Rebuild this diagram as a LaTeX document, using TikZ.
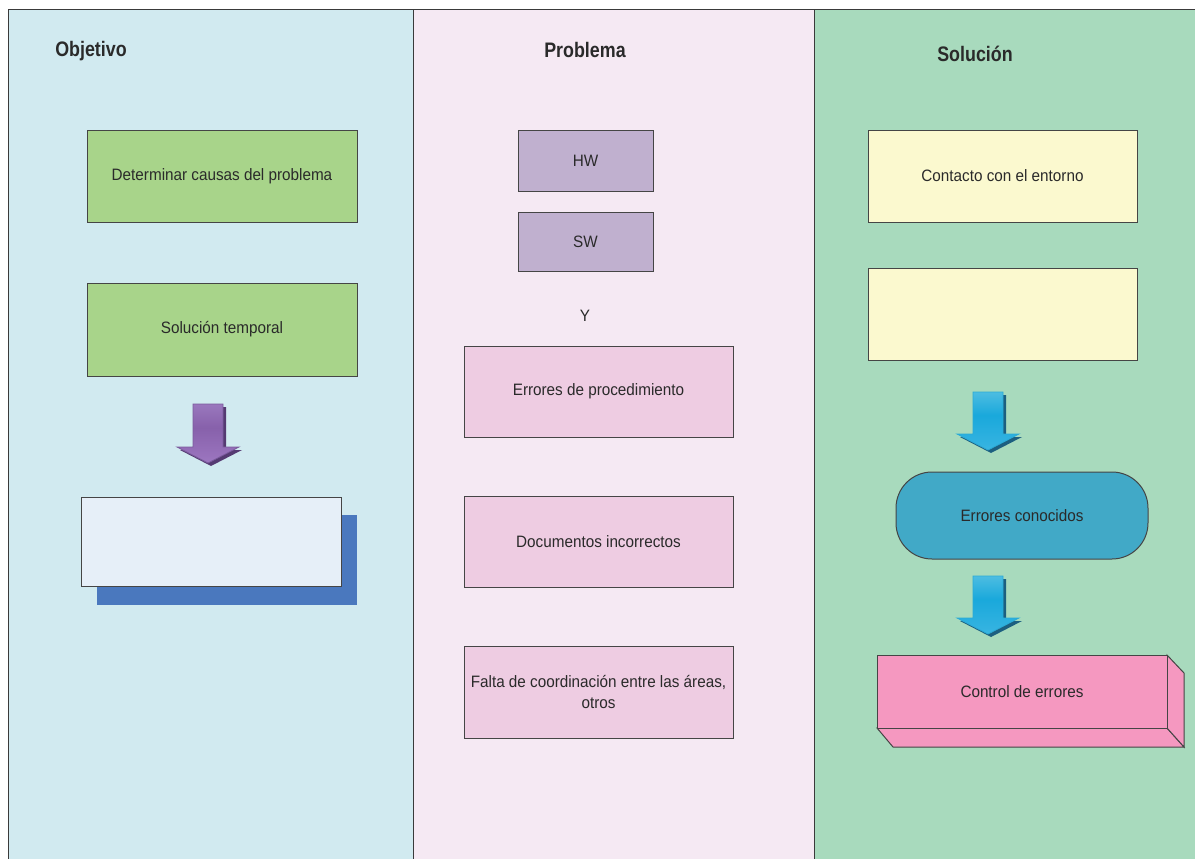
\documentclass[tikz,border=0pt]{standalone}
\usepackage{fontspec}
\setmainfont{Liberation Sans}
\newfontfamily\bodyfont[FakeStretch=0.925]{Liberation Sans}
\newfontfamily\headfont[FakeStretch=0.85]{Liberation Sans}

\definecolor{colA}{HTML}{D1EAF0}
\definecolor{colB}{HTML}{F5E9F3}
\definecolor{colC}{HTML}{A8DABD}
\definecolor{frame}{HTML}{3A3A3A}
\definecolor{boxline}{HTML}{454545}
\definecolor{txt}{HTML}{2A2A2A}
\definecolor{greenbox}{HTML}{A8D48A}
\definecolor{paleblue}{HTML}{E6EFF8}
\definecolor{shadowblue}{HTML}{4A78BE}
\definecolor{lilac}{HTML}{C0B0CF}
\definecolor{pinkbox}{HTML}{EECCE2}
\definecolor{yellowbox}{HTML}{FBF9CF}
\definecolor{tealbox}{HTML}{41A9C7}
\definecolor{rosebox}{HTML}{F598C0}
% block arrow colours
\definecolor{purShadow}{HTML}{553A72}
\definecolor{purEdge}{HTML}{7A5A9C}
\definecolor{cyShadow}{HTML}{1C5F80}
\definecolor{cyEdge}{HTML}{2AAAD6}

\pgfdeclareverticalshading{purgrad}{100bp}{%
  rgb(0bp)=(0.70,0.58,0.82); rgb(30bp)=(0.60,0.45,0.74); rgb(55bp)=(0.53,0.38,0.67);
  rgb(80bp)=(0.62,0.49,0.76); rgb(100bp)=(0.72,0.62,0.84)}
\pgfdeclareverticalshading{cygrad}{100bp}{%
  rgb(0bp)=(0.45,0.80,0.90); rgb(30bp)=(0.20,0.70,0.88); rgb(55bp)=(0.10,0.66,0.86);
  rgb(80bp)=(0.35,0.76,0.89); rgb(100bp)=(0.52,0.82,0.90)}

\tikzset{
  box/.style={draw=boxline, line width=1pt, inner sep=0pt, align=center,
    text=txt, font=\bodyfont\fontsize{16.5}{21}\selectfont},
  header/.style={inner sep=0pt, text=txt, font=\headfont\bfseries\fontsize{21}{24}\selectfont},
  % block arrow pointing down, origin at the top centre of its shaft
  purplearrow/.pic={
    \fill[purShadow] (-12,3) -- (18,3) -- (18,46) -- (34,46) -- (3,62) -- (-28,46) -- (-12,46) -- cycle;
    \shade[shading=purgrad]
      (-15,0) -- (15,0) -- (15,43) -- (31,43) -- (0,59) -- (-31,43) -- (-15,43) -- cycle;
    \draw[purEdge, line width=0.8pt]
      (-15,0) -- (15,0) -- (15,43) -- (31,43) -- (0,59) -- (-31,43) -- (-15,43) -- cycle;
  },
  cyanarrow/.pic={
    \fill[cyShadow] (-12,3) -- (18,3) -- (18,45) -- (34,45) -- (3,61) -- (-28,45) -- (-12,45) -- cycle;
    \shade[shading=cygrad]
      (-15,0) -- (15,0) -- (15,42) -- (31,42) -- (0,58) -- (-31,42) -- (-15,42) -- cycle;
    \draw[cyEdge, line width=0.8pt]
      (-15,0) -- (15,0) -- (15,42) -- (31,42) -- (0,58) -- (-31,42) -- (-15,42) -- cycle;
  }
}

\begin{document}
\begin{tikzpicture}[x=1pt,y=-1pt]
\useasboundingbox (0,0) rectangle (1195,859);
\fill[white] (0,0) rectangle (1195,859);

% column backgrounds
\fill[colA] (8,10) rectangle (413,859);
\fill[colB] (413,10) rectangle (814,859);
\fill[colC] (814,10) rectangle (1195,859);
\draw[frame, line width=1pt] (8,859) -- (8,10) -- (1195,10);
\draw[frame, line width=0.8pt] (413,10) -- (413,859);
\draw[frame, line width=0.8pt] (814,10) -- (814,859);

% headers
\node[header] (hobj) at (91,51) {Objetivo};
\node[header] (hprob) at (585,50) {Problema};
\node[header] (hsol) at (975,54) {Solución};

% Objetivo column
\node[box, fill=greenbox, minimum width=270, minimum height=92] (causas) at (222,176) {Determinar causas del problema};
\node[box, fill=greenbox, minimum width=270, minimum height=93] (temporal) at (222,329.5) {Solución temporal};
\pic at (208,404) {purplearrow};
\fill[shadowblue] (97,515) rectangle (357,605);
\node[box, fill=paleblue, minimum width=260, minimum height=89] (vacio) at (211,541.5) {};

% Problema column
\node[box, fill=lilac, minimum width=135, minimum height=61] (hw) at (585.5,160.5) {HW};
\node[box, fill=lilac, minimum width=135, minimum height=59] (sw) at (585.5,241.5) {SW};
\node[box, draw=none] (y) at (585,316) {Y};
\node[box, fill=pinkbox, minimum width=269, minimum height=91] (proc) at (598.5,391.5) {Errores de procedimiento};
\node[box, fill=pinkbox, minimum width=269, minimum height=91] (docs) at (598.5,541.5) {Documentos incorrectos};
\node[box, fill=pinkbox, minimum width=269, minimum height=92] (falta) at (598.5,692) {Falta de coordinación entre las áreas,\\otros};

% Solución column
\node[box, fill=yellowbox, minimum width=269, minimum height=92] (contacto) at (1002.5,176) {Contacto con el entorno};
\node[box, fill=yellowbox, minimum width=269, minimum height=92] (vacio2) at (1002.5,314) {};
\pic at (988,392) {cyanarrow};
\node[box, fill=tealbox, rounded corners=36, minimum width=252, minimum height=87] (conocidos) at (1022,515.5) {Errores conocidos};
\pic at (988,576) {cyanarrow};
\filldraw[fill=rosebox, draw=boxline, line width=1pt] (877,728) -- (1167,728) -- (1184,747) -- (893,747) -- cycle;
\filldraw[fill=rosebox, draw=boxline, line width=1pt] (1167,655) -- (1184,673) -- (1184,747) -- (1167,728) -- cycle;
\node[box, fill=rosebox, minimum width=290, minimum height=73] (control) at (1022,691.5) {Control de errores};
\end{tikzpicture}
\end{document}
